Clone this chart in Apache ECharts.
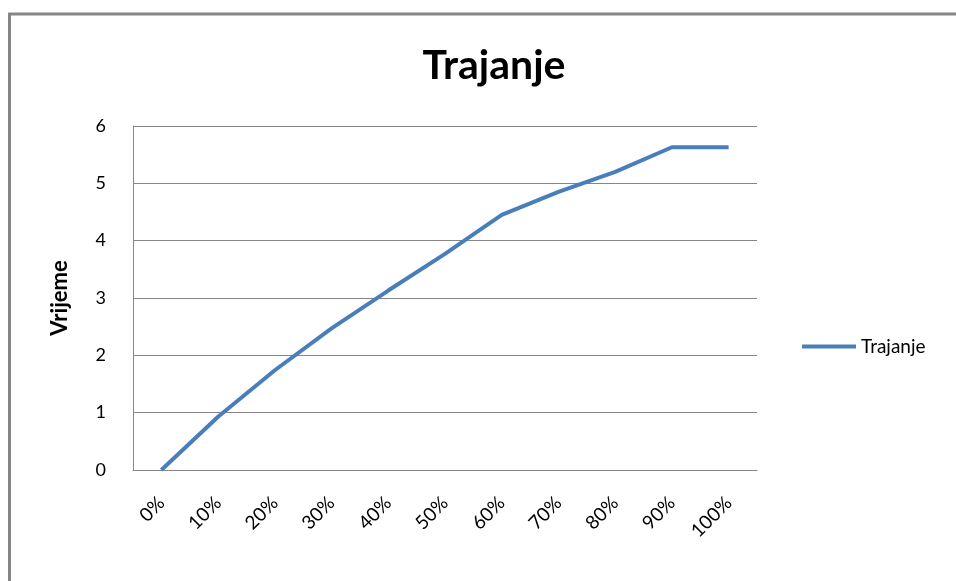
<!DOCTYPE html>
<html lang="hr">
<head>
	<meta charset="UTF-8">
	<title>Trajanje</title>
	<style>
		*{
			margin: 0;
			padding: 0;
		}
		#chart{
			width: 956px;
			height: 581px;
			background: #fff;
		}
	</style>
	<script src="https://cdn.jsdelivr.net/npm/echarts@6/dist/echarts.min.js"></script>
</head>
<body>
	<div id="chart"></div>
	<script>
		var categories = ['0%', '10%', '20%', '30%', '40%', '50%', '60%', '70%', '80%', '90%', '100%'];
		var trajanje = [0, 0.93, 1.74, 2.47, 3.13, 3.77, 4.45, 4.85, 5.2, 5.63, 5.63];
		var yTicks = [0, 6, 1];

		var chart = echarts.init(document.getElementById('chart'));
		var font = 'Lato, "Open Sans", sans-serif';
		var option = {
			animation: false,
			textStyle: { fontFamily: font },
			title: {
				text: 'Trajanje',
				left: 489,
				textAlign: 'center',
				top: 40,
				textStyle: { fontSize: 41, fontWeight: 'bold', color: '#000', fontFamily: font }
			},
			graphic: [{
				type: 'rect',
				shape: { x: 9.5, y: 14, width: 960, height: 600 },
				style: { fill: 'none', stroke: '#868686', lineWidth: 3 }
			}],
			legend: {
				data: ['Trajanje'],
				left: 797,
				top: 332,
				icon: 'rect',
				itemWidth: 54,
				itemHeight: 4,
				itemGap: 4,
				textStyle: { fontSize: 19, color: '#000', fontFamily: font }
			},
			grid: {
				left: 133,
				top: 126,
				right: 199,
				bottom: 111
			},
			xAxis: {
				type: 'category',
				data: categories,
				boundaryGap: true,
				axisLine: { lineStyle: { color: '#868686', width: 1 } },
				axisTick: { show: false },
				axisLabel: { rotate: 45, margin: 30, fontSize: 19, color: '#000', fontFamily: font }
			},
			yAxis: {
				type: 'value',
				min: yTicks[0],
				max: yTicks[1],
				interval: yTicks[2],
				name: 'Vrijeme',
				nameLocation: 'middle',
				nameRotate: 90,
				nameGap: 62,
				nameTextStyle: { fontSize: 22, fontWeight: 'bold', color: '#000', fontFamily: font },
				axisLine: { show: true, lineStyle: { color: '#868686', width: 1 } },
				axisTick: { show: false },
				splitLine: { lineStyle: { color: '#868686', width: 1 } },
				axisLabel: { margin: 27, fontSize: 18, color: '#000', fontFamily: font }
			},
			series: [{
				name: 'Trajanje',
				type: 'line',
				data: trajanje,
				symbol: 'none',
				lineStyle: { color: '#4a7ebb', width: 4 },
				itemStyle: { color: '#4a7ebb' }
			}]
		};
		chart.setOption(option);
	</script>
</body>
</html>
